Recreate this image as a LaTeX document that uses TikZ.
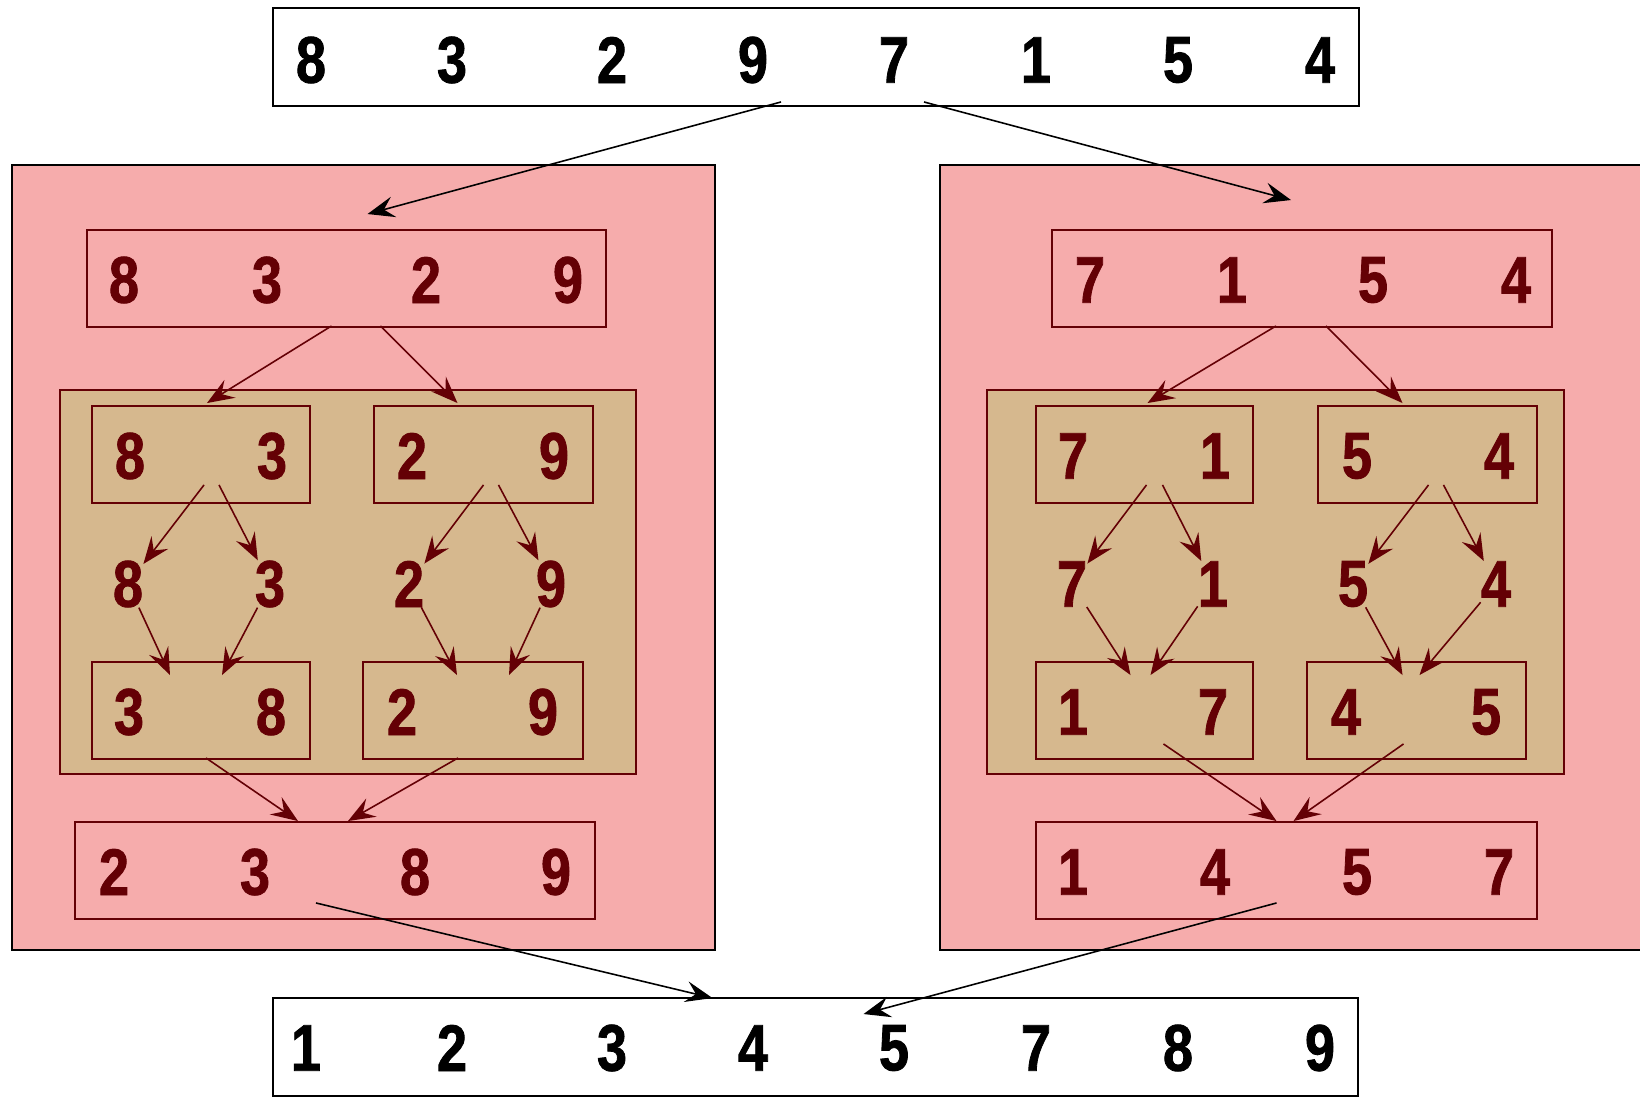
\documentclass[tikz,border=0pt]{standalone}
\usepackage{fontspec}
\newfontfamily\numfont[FakeStretch=0.82, FakeBold=1.2]{Liberation Sans}
\usetikzlibrary{arrows.meta, fit}

\definecolor{panelpink}{RGB}{246,172,172}
\definecolor{paneltan}{RGB}{214,184,142}
\definecolor{darkred}{RGB}{100,0,5}

\begin{document}
\begin{tikzpicture}[
    x=0.02cm, y=-0.02cm,
    panel/.style={draw=black, line width=1.1pt, fill=#1, inner sep=0pt},
    rowbox/.style={draw=#1, line width=1.1pt, inner sep=0pt},
    num/.style={text=#1, font=\numfont\bfseries\fontsize{37.5}{40}\selectfont, inner sep=0pt},
    arrow/.style={-{Stealth[length=0.54cm, width=0.42cm, inset=0.2cm]}, line width=0.9pt, draw=#1, fill=#1}
]
    \useasboundingbox (0,0) rectangle (1640,1099);
    \clip (0,0) rectangle (1640,1099);

    % panels
    \node[panel=panelpink, fit={(12,165) (715,950)}] (lpanel) {};
    \node[panel=panelpink, fit={(940,165) (1660,950)}] (rpanel) {};
    \node[rowbox=darkred, fill=paneltan, fit={(60,390) (636,774)}] (lgreen) {};
    \node[rowbox=darkred, fill=paneltan, fit={(987,390) (1564,774)}] (rgreen) {};

    % boxes
    \node[rowbox=black, fit={(273,8) (1359,106)}] (top) {};
    \node[rowbox=black, fit={(273,998) (1358,1096)}] (bottom) {};
    \node[rowbox=darkred, fit={(87,230) (606,327)}] (L1) {};
    \node[rowbox=darkred, fit={(92,406) (310,503)}] (L83) {};
    \node[rowbox=darkred, fit={(374,406) (593,503)}] (L29) {};
    \node[rowbox=darkred, fit={(92,662) (310,759)}] (L38) {};
    \node[rowbox=darkred, fit={(363,662) (583,759)}] (L29s) {};
    \node[rowbox=darkred, fit={(75,822) (595,919)}] (L2) {};
    \node[rowbox=darkred, fit={(1052,230) (1552,327)}] (R1) {};
    \node[rowbox=darkred, fit={(1036,406) (1253,503)}] (R71) {};
    \node[rowbox=darkred, fit={(1318,406) (1537,503)}] (R54) {};
    \node[rowbox=darkred, fit={(1036,662) (1253,759)}] (R17) {};
    \node[rowbox=darkred, fit={(1307,662) (1526,759)}] (R45) {};
    \node[rowbox=darkred, fit={(1036,822) (1537,919)}] (R2) {};

    % numbers
    \foreach \d/\x [count=\i] in {8/311,3/452,2/612,9/753,7/894,1/1036,5/1178,4/1320}
        \node[num=black] (t\i) at (\x,60) {\d};
    \foreach \d/\x [count=\i] in {1/306,2/452,3/612,4/753,5/894,7/1036,8/1178,9/1320}
        \node[num=black] (b\i) at (\x,1048) {\d};
    \foreach \d/\x [count=\i] in {8/124,3/267,2/426,9/568}
        \node[num=darkred] (l1n\i) at (\x,280) {\d};
    \foreach \d/\x [count=\i] in {8/130,3/272,2/412,9/554}
        \node[num=darkred] (l2n\i) at (\x,456) {\d};
    \foreach \d/\x [count=\i] in {8/128,3/270,2/409,9/551}
        \node[num=darkred] (la\i) at (\x,584) {\d};
    \foreach \d/\x [count=\i] in {3/129,8/271,2/402,9/543}
        \node[num=darkred] (l3n\i) at (\x,712) {\d};
    \foreach \d/\x [count=\i] in {2/114,3/255,8/415,9/556}
        \node[num=darkred] (l4n\i) at (\x,872) {\d};
    \foreach \d/\x [count=\i] in {7/1090,1/1232,5/1373,4/1516}
        \node[num=darkred] (r1n\i) at (\x,280) {\d};
    \foreach \d/\x [count=\i] in {7/1073,1/1215,5/1357,4/1499}
        \node[num=darkred] (r2n\i) at (\x,456) {\d};
    \foreach \d/\x [count=\i] in {7/1072,1/1213,5/1353,4/1496}
        \node[num=darkred] (ra\i) at (\x,584) {\d};
    \foreach \d/\x [count=\i] in {1/1073,7/1213,4/1346,5/1486}
        \node[num=darkred] (r3n\i) at (\x,712) {\d};
    \foreach \d/\x [count=\i] in {1/1073,4/1215,5/1357,7/1499}
        \node[num=darkred] (r4n\i) at (\x,872) {\d};

    % split
    \draw[arrow=black] ([shift={(-35,-5)}]top.south) -- ([shift={(21,-15)}]L1.north);
    \draw[arrow=black] ([shift={(108,-5)}]top.south) -- ([shift={(-11,-29)}]R1.north);

    % left half
    \draw[arrow=darkred] ([shift={(-15,-2)}]L1.south) -- ([shift={(6,-2)}]L83.north);
    \draw[arrow=darkred] ([shift={(34,-2)}]L1.south) -- ([shift={(-26,-2)}]L29.north);
    \draw[arrow=darkred] ([shift={(3,-19)}]L83.south) -- ([shift={(13,-37)}]la1);
    \draw[arrow=darkred] ([shift={(18,-19)}]L83.south) -- ([shift={(-4,-37)}]la2);
    \draw[arrow=darkred] ([shift={(0,-19)}]L29.south) -- ([shift={(9,-37)}]la3);
    \draw[arrow=darkred] ([shift={(15,-19)}]L29.south) -- ([shift={(-6,-37)}]la4);
    \draw[arrow=darkred] ([shift={(-4,31)}]la1) -- ([shift={(-31,14)}]L38.north);
    \draw[arrow=darkred] ([shift={(-2,31)}]la2) -- ([shift={(21,14)}]L38.north);
    \draw[arrow=darkred] ([shift={(2,31)}]la3) -- ([shift={(-16,14)}]L29s.north);
    \draw[arrow=darkred] ([shift={(-12,31)}]la4) -- ([shift={(36,14)}]L29s.north);
    \draw[arrow=darkred] ([shift={(5,-2)}]L38.south) -- ([shift={(-37,0)}]L2.north);
    \draw[arrow=darkred] ([shift={(-15,-2)}]L29s.south) -- ([shift={(13,0)}]L2.north);

    % right half
    \draw[arrow=darkred] ([shift={(-26,-2)}]R1.south) -- ([shift={(3,-2)}]R71.north);
    \draw[arrow=darkred] ([shift={(24,-2)}]R1.south) -- ([shift={(-25,-2)}]R54.north);
    \draw[arrow=darkred] ([shift={(2,-19)}]R71.south) -- ([shift={(11,-37)}]ra1);
    \draw[arrow=darkred] ([shift={(18,-19)}]R71.south) -- ([shift={(-3,-37)}]ra2);
    \draw[arrow=darkred] ([shift={(1,-19)}]R54.south) -- ([shift={(10,-37)}]ra3);
    \draw[arrow=darkred] ([shift={(16,-19)}]R54.south) -- ([shift={(-6,-37)}]ra4);
    \draw[arrow=darkred] ([shift={(-5,31)}]ra1) -- ([shift={(-14,14)}]R17.north);
    \draw[arrow=darkred] ([shift={(-1,31)}]ra2) -- ([shift={(6,14)}]R17.north);
    \draw[arrow=darkred] ([shift={(-13,31)}]ra3) -- ([shift={(-14,14)}]R45.north);
    \draw[arrow=darkred] ([shift={(-13,31)}]ra4) -- ([shift={(3,14)}]R45.north);
    \draw[arrow=darkred] ([shift={(19,-16)}]R17.south) -- ([shift={(-10,0)}]R2.north);
    \draw[arrow=darkred] ([shift={(-13,-16)}]R45.south) -- ([shift={(7,0)}]R2.north);

    % merge
    \draw[arrow=black] ([shift={(-19,-17)}]L2.south) -- ([shift={(-103,1)}]bottom.north);
    \draw[arrow=black] ([shift={(-10,-17)}]R2.south) -- ([shift={(48,17)}]bottom.north);
\end{tikzpicture}
\end{document}
